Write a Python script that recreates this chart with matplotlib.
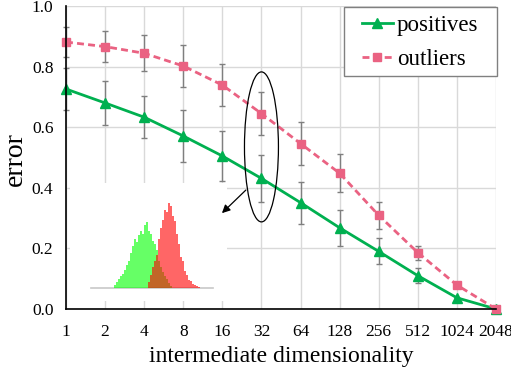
import numpy as np
import matplotlib
matplotlib.use("Agg")
import matplotlib.pyplot as plt
from matplotlib.patches import Ellipse, FancyArrowPatch, Rectangle

plt.rcParams["font.family"] = ["Liberation Serif", "DejaVu Serif"]

dims = [1, 2, 4, 8, 16, 32, 64, 128, 256, 512, 1024, 2048]
pos = [0.726, 0.680, 0.633, 0.571, 0.505, 0.431, 0.351, 0.268, 0.190, 0.110, 0.037, 0.0]
pos_err = [0.07, 0.073, 0.07, 0.087, 0.083, 0.077, 0.069, 0.059, 0.043, 0.024, 0.0, 0.0]
out = [0.881, 0.866, 0.844, 0.802, 0.739, 0.645, 0.546, 0.448, 0.309, 0.186, 0.079, 0.0]
out_err = [0.05, 0.051, 0.06, 0.068, 0.07, 0.07, 0.07, 0.062, 0.045, 0.023, 0.0, 0.0]
yticks = [0.0, 0.2, 0.4, 0.6, 0.8, 1.0]

# inset histograms (bin left edges and heights)
green_x = list(range(29, 87, 2))
green_h = [3, 6, 9, 12, 14, 18, 23, 27, 35, 42, 49, 46, 53, 57, 54, 63, 66, 57,
           54, 47, 44, 38, 27, 21, 16, 12, 9, 5, 2]
red_x = list(range(63, 115, 2))
red_h = [6, 13, 21, 27, 33, 49, 60, 68, 78, 76, 85, 82, 72, 67, 54, 44, 31, 27,
         17, 13, 8, 7, 4, 3, 2, 1]

green = "#00B050"
pink = "#EA6282"

fig = plt.figure(figsize=(5.11, 3.74), dpi=100)
ax = fig.add_axes([66 / 511, 1 - 309 / 374, 430 / 511, 303 / 374])

ax.errorbar(dims, pos, yerr=pos_err, fmt="none", ecolor="#7F7F7F", elinewidth=1,
            capsize=2.5, capthick=1, zorder=2, clip_on=False)
ax.errorbar(dims, out, yerr=out_err, fmt="none", ecolor="#7F7F7F", elinewidth=1,
            capsize=2.5, capthick=1, zorder=2, clip_on=False)
ax.plot(dims, pos, color=green, lw=2, marker="^", ms=6.5, label="positives",
        zorder=3, clip_on=False)
ax.plot(dims, out, color=pink, lw=2, ls=(0, (2.5, 1.5)), marker="s", ms=5.5,
        label="outliers", zorder=3, clip_on=False)

ax.set_xscale("log", base=2)
ax.set_xlim(1, 2048)
ax.set_ylim(0, 1.0)
ax.set_xticks(dims)
ax.set_xticklabels([str(d) for d in dims])
ax.minorticks_off()
ax.set_yticks(yticks)
ax.set_yticklabels(["%.1f" % v for v in yticks])
ax.tick_params(length=0, labelsize=12.5)
ax.tick_params(axis="x", pad=10.5)
ax.tick_params(axis="y", pad=9)
ax.grid(True, color="#D9D9D9", lw=1)
ax.set_axisbelow(True)
for s in ["top", "right"]:
    ax.spines[s].set_visible(False)
for s in ["left", "bottom"]:
    ax.spines[s].set_linewidth(1.2)
    ax.spines[s].set_zorder(4)

ax.set_xlabel("intermediate dimensionality", fontsize=17)
ax.xaxis.set_label_coords(0.5, -0.122)
ax.set_ylabel("error", fontsize=20)
ax.yaxis.set_label_coords(-0.088, 0.495)

# legend frame drawn separately (wider side padding than matplotlib's)
ax.add_patch(Rectangle((0.6465, 0.769), 0.3558, 0.2277, transform=ax.transAxes,
                       fc="white", ec="#808080", lw=1, zorder=4.5, clip_on=False))
leg = ax.legend(loc="upper left", bbox_to_anchor=(0.688, 0.97), fontsize=16.5,
                frameon=False, borderaxespad=0, borderpad=0, handlelength=1.35,
                handletextpad=0.17, labelspacing=0.55)
leg.set_zorder(5)

ax.add_patch(Ellipse((5 / 11, 0.535), 0.079, 0.495, transform=ax.transAxes,
                     fill=False, ec="black", lw=0.9, zorder=5))

# inset with histograms
ax_in = fig.add_axes([70 / 511, 1 - 301 / 374, 157 / 511, 118 / 374])
ax_in.set_xlim(-15, 142)
ax_in.set_ylim(-13, 105)
ax_in.set_facecolor("white")
ax_in.set_xticks([])
ax_in.set_yticks([])
for s in ax_in.spines.values():
    s.set_visible(False)
ax_in.plot([6, 128], [0, 0], color="#C8C8C8", lw=1.2, zorder=1)
ax_in.bar(green_x, green_h, width=2, align="edge", color="#00FF00", alpha=0.6,
          lw=0, zorder=2)
ax_in.bar(red_x, red_h, width=2, align="edge", color="#FF0000", alpha=0.6,
          lw=0, zorder=3)

arrow = FancyArrowPatch((0.423, 0.399), (0.358, 0.31), transform=ax.transAxes,
                        arrowstyle="-|>", mutation_scale=12, color="black", lw=0.9)
fig.add_artist(arrow)

fig.savefig("out.png", dpi=100)
